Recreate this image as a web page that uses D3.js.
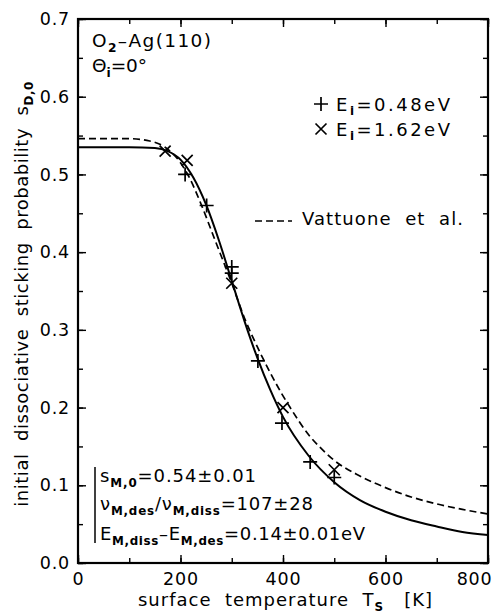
<!DOCTYPE html>
<html><head><meta charset="utf-8">
<script src="https://cdn.jsdelivr.net/npm/d3@7"></script>
<style>body{margin:0;background:#fff}svg{display:block}text{font-family:"DejaVu Sans",sans-serif;fill:#000;white-space:pre}</style>
</head><body><svg id="c" width="493" height="613"></svg>
<script>
// Data
const plusT = [209, 251, 300, 300, 351, 398, 453, 500];
const plusS = [0.500, 0.460, 0.381, 0.373, 0.260, 0.180, 0.130, 0.110];
const crossT = [170, 213, 300, 400, 500];
const crossS = [0.530, 0.518, 0.360, 0.200, 0.120];
const fitT = [0, 100, 150, 175, 200, 225, 250, 275, 300, 325, 350, 375, 400, 450, 500, 550, 600, 650, 700, 750, 800];
const fitS = [0.535, 0.535, 0.534, 0.530, 0.519, 0.496, 0.461, 0.415, 0.363, 0.311, 0.264, 0.223, 0.188, 0.138, 0.104, 0.081, 0.066, 0.055, 0.047, 0.040, 0.036];
const vatT = [0, 100, 140, 170, 200, 218, 240, 267, 300, 325, 350, 375, 400, 414, 450, 472, 500, 550, 600, 650, 700, 750, 800];
const vatS = [0.546, 0.546, 0.543, 0.535, 0.515, 0.495, 0.462, 0.416, 0.360, 0.315, 0.278, 0.245, 0.215, 0.200, 0.165, 0.149, 0.132, 0.112, 0.097, 0.085, 0.076, 0.069, 0.063];
const xTicks = [0, 200, 400, 600, 800];
const yTicks = [0.0, 0.1, 0.2, 0.3, 0.4, 0.5, 0.6, 0.7];

const svg = d3.select("#c");
const L = 78, R = 488, T = 19, B = 563;
const x = d3.scaleLinear().domain([0, 800]).range([L, R]);
const y = d3.scaleLinear().domain([0, 0.7]).range([B, T]);
const FONT = '"DejaVu Sans",sans-serif';

// axes with inward ticks
const g = svg.append("g");
const minorX = d3.range(0, 801, 100), minorY = d3.range(0, 0.701, 0.05);
g.append("g").attr("transform", `translate(0,${B})`)
  .call(d3.axisBottom(x).tickValues(minorX).tickSize(-5).tickFormat(""));
const xAx = g.append("g").attr("transform", `translate(0,${B})`)
  .call(d3.axisBottom(x).tickValues(xTicks).tickSize(-8).tickPadding(10).tickFormat(d3.format("d")));
g.append("g").attr("transform", `translate(0,${T})`)
  .call(d3.axisTop(x).tickValues(minorX).tickSize(-5).tickFormat(""));
g.append("g").attr("transform", `translate(0,${T})`)
  .call(d3.axisTop(x).tickValues(xTicks).tickSize(-8).tickFormat(""));
g.append("g").attr("transform", `translate(${L},0)`)
  .call(d3.axisLeft(y).tickValues(minorY).tickSize(-5).tickFormat(""));
g.append("g").attr("transform", `translate(${L},0)`)
  .call(d3.axisLeft(y).tickValues(yTicks).tickSize(-8).tickPadding(8).tickFormat(d3.format(".1f")));
g.append("g").attr("transform", `translate(${R},0)`)
  .call(d3.axisRight(y).tickValues(minorY).tickSize(-5).tickFormat(""));
g.append("g").attr("transform", `translate(${R},0)`)
  .call(d3.axisRight(y).tickValues(yTicks).tickSize(-8).tickFormat(""));
g.selectAll(".domain").remove();
g.selectAll(".tick line").attr("stroke", "#000").attr("stroke-width", 1.4);
g.selectAll(".tick text").attr("font-size", 17.5).attr("font-family", FONT).attr("fill", "#000").style("letter-spacing", "0.8px");
xAx.selectAll(".tick text").filter(d => d === 800).attr("text-anchor", "end").attr("x", 492 - x(800));
svg.append("rect").attr("x", L).attr("y", T).attr("width", R - L).attr("height", B - T)
  .attr("fill", "none").attr("stroke", "#000").attr("stroke-width", 2.2);

// curves
const line = d3.line().x(d => x(d[0])).y(d => y(d[1])).curve(d3.curveMonotoneX);
svg.append("path").datum(fitT.map((t, i) => [t, fitS[i]])).attr("d", line)
  .attr("fill", "none").attr("stroke", "#000").attr("stroke-width", 2);
svg.append("path").datum(vatT.map((t, i) => [t, vatS[i]])).attr("d", line)
  .attr("fill", "none").attr("stroke", "#000").attr("stroke-width", 1.7).attr("stroke-dasharray", "7,4");

// markers
function drawPlus(sel, cx, cy, s) {
  sel.append("path").attr("d", `M${cx - s},${cy}H${cx + s}M${cx},${cy - s}V${cy + s}`)
    .attr("stroke", "#000").attr("stroke-width", 1.7).attr("fill", "none");
}
function drawCross(sel, cx, cy, s) {
  sel.append("path").attr("d", `M${cx - s},${cy - s}L${cx + s},${cy + s}M${cx - s},${cy + s}L${cx + s},${cy - s}`)
    .attr("stroke", "#000").attr("stroke-width", 1.7).attr("fill", "none");
}
const mk = svg.append("g");
plusT.forEach((t, i) => drawPlus(mk, x(t), y(plusS[i]), 7));
crossT.forEach((t, i) => drawCross(mk, x(t), y(crossS[i]), 5.5));

// text helpers: parts with optional subscripts, stretched to a target width
function txt(xp, yp, parts, size, width) {
  const t = svg.append("text").attr("x", xp).attr("y", yp).attr("font-size", size);
  let shift = 0, n = 0;
  parts.forEach(p => {
    const [s, kind] = Array.isArray(p) ? p : [p, "n"];
    const off = kind === "sub" ? 4.5 : 0;
    const ts = t.append("tspan").text(s).attr("dy", off - shift);
    if (kind === "sub") ts.attr("font-size", size * 0.66).attr("font-weight", "bold");
    shift = off; n += s.length;
  });
  if (width) {
    const nat = t.node().getComputedTextLength();
    const ls = (width - nat) / Math.max(1, n - 1);
    t.style("letter-spacing", ls + "px");
  }
  return t;
}
txt(92, 47, ["O", ["2", "sub"], "\u2013Ag(110)"], 18.5, 119);
txt(92, 72, ["\u0398", ["i", "sub"], "=0\u00b0"], 18.5, 55);

// legend
drawPlus(svg, 321, 104, 7);
drawCross(svg, 321, 129, 5.5);
txt(336, 110.5, ["E", ["i", "sub"], "=0.48eV"], 18, 114);
txt(336, 135.5, ["E", ["i", "sub"], "=1.62eV"], 18, 114);
svg.append("line").attr("x1", 255).attr("x2", 292).attr("y1", 221).attr("y2", 221)
  .attr("stroke", "#000").attr("stroke-width", 1.7).attr("stroke-dasharray", "7,4");
txt(302, 225, ["Vattuone  et  al."], 18, 161);

// parameter box
svg.append("line").attr("x1", 95).attr("x2", 95).attr("y1", 467).attr("y2", 543)
  .attr("stroke", "#000").attr("stroke-width", 1.5);
txt(100, 482, ["s", ["M,0", "sub"], "=0.54\u00b10.01"], 18, 156);
txt(100, 510, ["\u03bd", ["M,des", "sub"], "/\u03bd", ["M,diss", "sub"], "=107\u00b128"], 18, 213);
txt(100, 540, ["E", ["M,diss", "sub"], "\u2013E", ["M,des", "sub"], "=0.14\u00b10.01eV"], 18, 265);

// axis titles
txt(138, 606, ["surface  temperature  T", ["S", "sub"], "   [K]"], 18, 294);
const yt = txt(0, 0, ["initial  dissociative  sticking  probability  s", ["D,0", "sub"]], 18, 425);
yt.attr("transform", "translate(28,294) rotate(-90)").attr("text-anchor", "middle");
</script></body></html>
